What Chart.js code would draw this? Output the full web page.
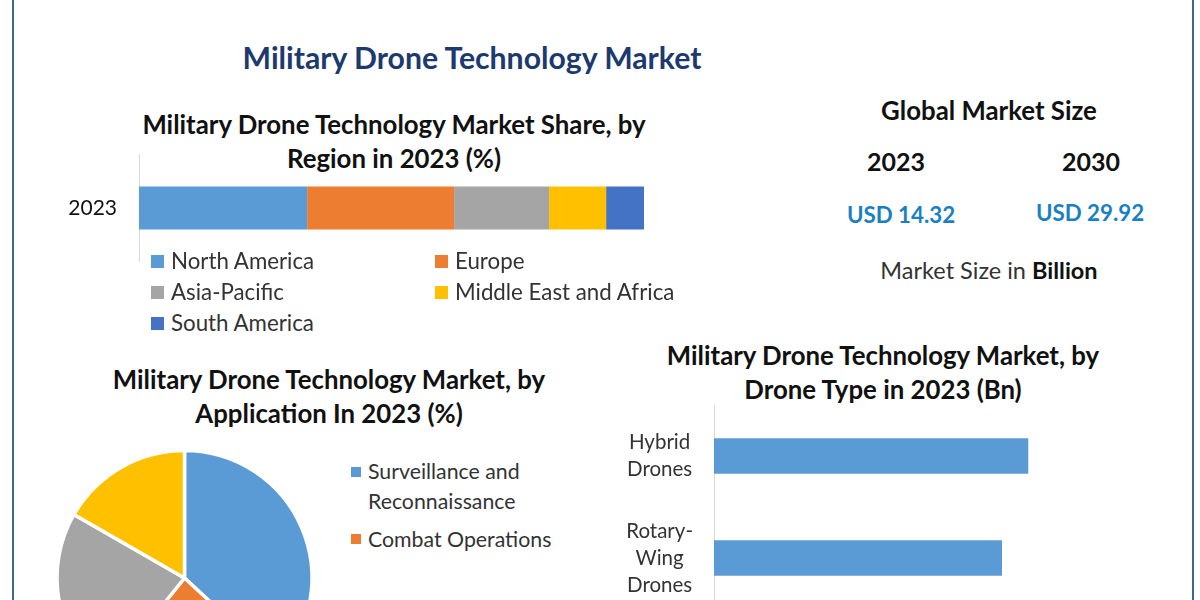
<!DOCTYPE html>
<html>
<head>
<meta charset="utf-8">
<script src="https://cdn.jsdelivr.net/npm/chart.js@4"></script>
<style>
html,body{margin:0;padding:0;background:#fff;width:1200px;height:600px;overflow:hidden;font-family:Lato,sans-serif;}
#frame{position:absolute;left:12px;top:-5px;width:1178px;height:700px;border-left:2px solid #3c6a8e;border-right:2px solid #3c6a8e;}
.txt{position:absolute;white-space:nowrap;transform:translateX(-50%);text-align:center;}
.head{font-weight:700;font-size:25.8px;line-height:34px;color:#111;}
canvas{position:absolute;}
.legend{position:absolute;font-size:22.3px;color:#333;white-space:nowrap;line-height:24px;}
.legend i{position:absolute;width:13px;height:13px;top:6px;left:-20px;}
.legend.small{font-size:21.3px;}
.legend.small i{width:10px;height:10px;top:10px;left:-17px;}
</style>
</head>
<body>
<div id="frame"></div>
<div class="txt" style="left:472px;top:39px;font-size:30.2px;font-weight:700;color:#1c3a6e;">Military Drone Technology Market</div>
<div class="txt head" style="left:394px;top:107px;">Military Drone Technology Market Share, by<br>Region in 2023 (%)</div>
<div class="txt head" style="left:329px;top:362px;">Military Drone Technology Market, by<br>Application In 2023 (%)</div>
<div class="txt head" style="left:883px;top:338px;">Military Drone Technology Market, by<br>Drone Type in 2023 (Bn)</div>
<div class="txt head" style="left:989px;top:93px;">Global Market Size</div>
<div class="txt head" style="left:896px;top:144px;font-size:25px;">2023</div>
<div class="txt head" style="left:1091px;top:144px;font-size:25px;">2030</div>
<div class="txt head" style="left:901px;top:198px;font-size:22.3px;color:#1b7fc4;">USD 14.32</div>
<div class="txt head" style="left:1090px;top:196px;font-size:22.3px;color:#1b7fc4;">USD 29.92</div>
<div class="txt" style="left:989px;top:256px;font-size:23.5px;color:#333;">Market Size in <b style="color:#111">Billion</b></div>

<canvas id="regionChart" style="left:0;top:154px;"></canvas>
<canvas id="appChart" style="left:44px;top:438px;"></canvas>
<canvas id="typeChart" style="left:600px;top:405px;"></canvas>
<div id="regionLegend"></div>
<div id="appLegend"></div>

<script>
const regionYear = ['2023'];
const regionNames = ['North America', 'Europe', 'Asia-Pacific', 'Middle East and Africa', 'South America'];
const regionShares = [33.3, 29.1, 18.8, 11.3, 7.5];
const blue = '#5b9bd5', orange = '#ed7d31', grey = '#a5a5a5', gold = '#ffc000', darkBlue = '#4472c4';
const regionColors = [blue, orange, grey, gold, darkBlue];

// legend below the crop of the reference, only the first two names can be read
const appNames = ['Surveillance and Reconnaissance', 'Combat Operations', 'Not readable 1', 'Not readable 2'];
const appLegendLines = [['Surveillance and', 'Reconnaissance'], ['Combat Operations']];
const appShares = [36.9, 23.9, 22.5, 16.7];
const appColors = [blue, orange, grey, gold];

const typeNames = [['Hybrid', 'Drones'], ['Rotary-', 'Wing', 'Drones']];
const typeValues = [5.5, 5.04];

function sizeCanvas(id, w, h){
    const c = document.getElementById(id);
    c.width = w; c.height = h;
    c.style.width = w + 'px'; c.style.height = h + 'px';
    return c.getContext('2d');
}

// fixed axis box, tick padding must not eat the plot height
function fixAxis(width){
    return s => {
        s.width = width;
        s.paddingTop = 0;
        s.paddingBottom = 0;
    };
}

Chart.defaults.animation = false;
Chart.defaults.responsive = false;
Chart.defaults.font.family = 'Lato';
Chart.defaults.plugins.legend.display = false;
Chart.defaults.plugins.tooltip.enabled = false;

new Chart(sizeCanvas('regionChart', 700, 108), {
    type: 'bar',
    data: {
        labels: regionYear,
        datasets: regionNames.map((name, i) => ({
            label: name,
            data: [regionShares[i]],
            backgroundColor: regionColors[i],
            barPercentage: 0.4,
            categoryPercentage: 1
        }))
    },
    options: {
        indexAxis: 'y',
        layout: {padding: 0},
        scales: {
            x: {stacked: true, display: false, min: 0, max: 100 * 561 / 505},
            y: {
                stacked: true,
                afterFit: fixAxis(139),
                border: {color: '#d9d9d9'},
                grid: {display: false},
                ticks: {color: '#111', font: {size: 21}, padding: 14}
            }
        }
    }
});

new Chart(sizeCanvas('appChart', 281, 280), {
    type: 'pie',
    data: {
        labels: appNames,
        datasets: [{
            data: appShares,
            backgroundColor: appColors,
            borderColor: '#fff',
            borderWidth: 3.5
        }]
    },
    options: {
        layout: {padding: 0},
        radius: 127.5
    }
});

new Chart(sizeCanvas('typeChart', 514, 204), {
    type: 'bar',
    data: {
        labels: typeNames,
        datasets: [{
            data: typeValues,
            backgroundColor: blue,
            barPercentage: 0.35,
            categoryPercentage: 1
        }]
    },
    options: {
        indexAxis: 'y',
        layout: {padding: 0},
        scales: {
            x: {display: false, min: 0, max: 7},
            y: {
                afterFit: fixAxis(114),
                border: {color: '#d9d9d9'},
                grid: {display: false},
                ticks: {color: '#333', font: {size: 20.5, lineHeight: 1.32}, crossAlign: 'center', padding: 13}
            }
        }
    }
});

// html legends, filled from the name arrays
function legendItem(parent, x, y, color, lines, lineGap, small){
    const d = document.createElement('div');
    d.className = small ? 'legend small' : 'legend';
    d.style.left = x + 'px';
    d.style.top = y + 'px';
    d.style.lineHeight = lineGap + 'px';
    d.innerHTML = '<i style="background:' + color + '"></i>' + lines.join('<br>');
    parent.appendChild(d);
}
const regionLegend = document.getElementById('regionLegend');
const regionCols = [171, 455];
regionNames.forEach((name, i) => {
    legendItem(regionLegend, regionCols[i % 2], 249 + 31 * Math.floor(i / 2), regionColors[i], [name], 24);
});
const appLegend = document.getElementById('appLegend');
legendItem(appLegend, 368, 457, appColors[0], appLegendLines[0], 29.5, true);
legendItem(appLegend, 368, 524, appColors[1], appLegendLines[1], 30, true);
</script>
</body>
</html>
